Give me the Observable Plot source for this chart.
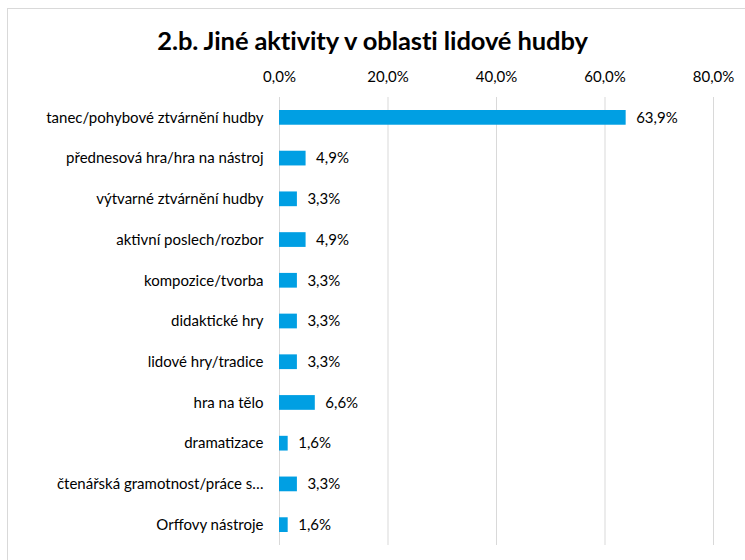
<!DOCTYPE html>
<html>
<head>
<meta charset="utf-8">
<script src="https://cdn.jsdelivr.net/npm/d3@7"></script>
<script src="https://cdn.jsdelivr.net/npm/@observablehq/plot@0.6"></script>
<style>
  html, body { margin: 0; padding: 0; overflow: hidden; background: #fff; font-family: Lato, "Open Sans", sans-serif; }
  #frame { position: absolute; left: 7px; top: 8px; width: 738px; height: 552px; border: 1px solid #d9d9d9; border-right: none; border-bottom: none; box-sizing: border-box; }
  #wrap { position: absolute; left: 0; top: 0; width: 745px; height: 560px; }
  #title { height: 60px; line-height: 60px; padding-top: 10px; box-sizing: border-box; text-align: center; font-weight: bold; font-size: 25.5px; color: #000; letter-spacing: -0.1px; white-space: nowrap; }
  #chart svg { display: block; }
</style>
</head>
<body>
<div id="frame"></div>
<div id="wrap">
  <div id="title">2.b. Jiné aktivity v oblasti lidové hudby</div>
  <div id="chart"></div>
</div>
<script>
const categories = [
  "tanec/pohybové ztvárnění hudby",
  "přednesová hra/hra na nástroj",
  "výtvarné ztvárnění hudby",
  "aktivní poslech/rozbor",
  "kompozice/tvorba",
  "didaktické hry",
  "lidové hry/tradice",
  "hra na tělo",
  "dramatizace",
  "čtenářská gramotnost/práce s…",
  "Orffovy nástroje"
];
const values = [63.9, 4.9, 3.3, 4.9, 3.3, 3.3, 3.3, 6.6, 1.6, 3.3, 1.6];
const ticks = [0, 20, 40, 60, 80];

const data = categories.map((c, i) => ({category: c, value: values[i]}));
const fmt = v => v.toFixed(1).replace(".", ",") + "%";

const chart = Plot.plot({
  width: 745,
  height: 500,
  marginTop: 37,
  marginBottom: 15,
  marginLeft: 279,
  marginRight: 32,
  style: {fontFamily: "Lato, 'Open Sans', sans-serif", fontSize: "15px", color: "#000", background: "transparent"},
  x: {domain: [0, 80], ticks: ticks, axis: null},
  y: {domain: categories, padding: 0, round: false, axis: null},
  marks: [
    Plot.gridX(ticks, {stroke: "#d9d9d9", strokeOpacity: 1, strokeWidth: 1}),
    Plot.axisX(ticks, {anchor: "top", label: null, tickSize: 0, tickPadding: 16, tickFormat: fmt, fontSize: 15, fill: "#000"}),
    Plot.axisY({label: null, tickSize: 0, tickPadding: 16, fontSize: 15, fill: "#000"}),
    Plot.barX(data, {x: "value", y: "category", fill: "#009fe3", insetTop: 13, insetBottom: 13}),
    Plot.text(data, {x: "value", y: "category", text: d => fmt(d.value), textAnchor: "start", dx: 10, fontSize: 15, fill: "#000"})
  ]
});
document.getElementById("chart").appendChild(chart);
</script>
</body>
</html>
